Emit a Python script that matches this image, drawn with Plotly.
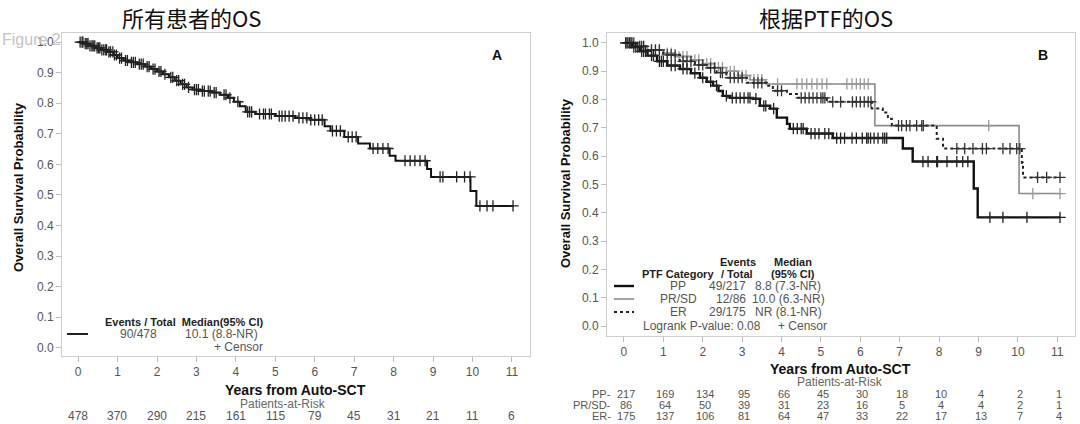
import numpy as np
import plotly.graph_objects as go

# ---------------- data ----------------
years = list(range(12))

# Panel A: all patients (step times / survival)
all_t = [0, 0.15, 0.3, 0.45, 0.6, 0.75, 0.9, 1.0, 1.15, 1.3, 1.5, 1.7, 1.85, 2.0, 2.15, 2.3,
         2.45, 2.6, 2.75, 2.9, 3.1, 3.4, 3.6, 3.8, 3.95, 4.1, 4.25, 4.5, 5.0, 5.5, 5.9, 6.25,
         6.4, 6.75, 7.1, 7.4, 7.9, 8.05, 8.85, 8.95, 9.95, 10.1]
all_s = [1.0, 0.995, 0.988, 0.981, 0.975, 0.968, 0.958, 0.948, 0.94, 0.934, 0.928, 0.92,
         0.912, 0.904, 0.895, 0.885, 0.874, 0.862, 0.852, 0.845, 0.84, 0.835, 0.828, 0.818,
         0.805, 0.79, 0.772, 0.765, 0.758, 0.752, 0.746, 0.725, 0.71, 0.69, 0.668, 0.652,
         0.628, 0.612, 0.585, 0.559, 0.513, 0.464]
all_end = 11.05
all_cens = [0.05, 0.1, 0.12, 0.18, 0.22, 0.25, 0.3, 0.35, 0.38, 0.42, 0.48, 0.52, 0.55, 0.6,
            0.65, 0.7, 0.72, 0.78, 0.82, 0.88, 0.92, 0.97, 1.05, 1.1, 1.2, 1.25, 1.35, 1.4,
            1.45, 1.55, 1.6, 1.65, 1.75, 1.8, 1.9, 1.95, 2.05, 2.1, 2.2, 2.35, 2.4, 2.5, 2.55,
            2.65, 2.7, 2.8, 2.95, 3.0, 3.05, 3.15, 3.2, 3.3, 3.35, 3.45, 3.5, 3.7, 3.75, 3.85,
            4.05, 4.3, 4.35, 4.4, 4.6, 4.7, 4.75, 4.85, 4.9, 5.1, 5.17, 5.25, 5.35, 5.45, 5.6,
            5.7, 5.8, 5.9, 6.0, 6.1, 6.19, 6.45, 6.55, 6.65, 6.85, 6.95, 7.05, 7.48, 7.6, 7.73,
            7.86, 8.29, 8.42, 8.54, 8.67, 8.8, 9.18, 9.25, 9.6, 9.8, 9.94, 10.19, 10.37, 10.52,
            11.03]
all_risk = [478, 370, 290, 215, 161, 115, 79, 45, 31, 21, 11, 6]

# Panel B: by PTF category
pp_t = [0, 0.2, 0.4, 0.6, 0.84, 1.1, 1.42, 1.7, 1.93, 2.1, 2.26, 2.4, 2.51, 2.69, 3.27, 3.45,
        3.71, 3.88, 4.14, 4.21, 4.64, 5.3, 7.08, 7.33, 8.88, 8.98]
pp_s = [1.0, 0.985, 0.97, 0.955, 0.935, 0.92, 0.908, 0.893, 0.877, 0.863, 0.849, 0.83, 0.813,
        0.806, 0.803, 0.778, 0.768, 0.736, 0.714, 0.697, 0.68, 0.664, 0.627, 0.581, 0.486, 0.384]
pp_cens = [0.05, 0.1, 0.15, 0.25, 0.3, 0.35, 0.45, 0.5, 0.55, 0.7, 0.75, 0.9, 0.95, 1.0, 1.2,
           1.3, 1.5, 1.6, 1.8, 2.0, 2.2, 2.35, 2.6, 2.75, 2.85, 2.95, 3.05, 3.15, 3.2, 3.35,
           3.55, 3.6, 3.8, 4.3, 4.4, 4.5, 4.55, 4.75, 4.85, 4.95, 5.1, 5.2, 5.4, 5.5, 5.6, 5.79,
           5.9, 6.05, 6.16, 6.2, 6.26, 6.35, 6.45, 6.57, 6.62, 6.67, 7.59, 7.72, 7.94, 7.96,
           8.2, 8.45, 8.6, 8.73, 9.29, 9.62, 10.23, 11.07]

prsd_t = [0, 0.3, 0.6, 1.0, 1.3, 1.7, 2.0, 2.3, 2.6, 2.9, 3.2, 3.6, 6.37, 10.03]
prsd_s = [1.0, 0.988, 0.976, 0.964, 0.952, 0.94, 0.927, 0.913, 0.9, 0.885, 0.87, 0.855,
          0.708, 0.468]
prsd_cens = [0.1, 0.2, 0.4, 0.5, 0.7, 0.8, 0.9, 1.1, 1.2, 1.4, 1.5, 1.6, 1.8, 1.9, 2.1, 2.2,
             2.4, 2.5, 2.7, 2.8, 3.0, 3.1, 3.3, 3.4, 3.5, 3.9, 4.39, 4.52, 4.64, 4.77, 4.9,
             5.03, 5.15, 5.66, 5.79, 5.9, 6.0, 6.1, 6.2, 9.26, 10.38, 11.07]

er_t = [0, 0.3, 0.6, 1.0, 1.42, 1.8, 2.1, 2.35, 2.6, 3.12, 3.63, 3.78, 4.14, 4.39, 5.15, 6.29,
        6.57, 6.7, 6.8, 7.94, 8.1, 10.1, 10.13]
er_s = [1.0, 0.988, 0.975, 0.958, 0.935, 0.922, 0.912, 0.895, 0.877, 0.859, 0.849, 0.831,
        0.82, 0.806, 0.792, 0.768, 0.754, 0.732, 0.708, 0.662, 0.627, 0.577, 0.525]
er_cens = [0.05, 0.15, 0.2, 0.25, 0.4, 0.45, 0.5, 0.7, 0.8, 0.9, 1.1, 1.2, 1.3, 1.5, 1.6, 1.7,
           1.9, 2.0, 2.2, 2.3, 2.45, 2.5, 2.7, 2.8, 2.9, 3.0, 3.3, 3.4, 3.5, 3.9, 4.0, 4.5,
           4.6, 4.7, 4.8, 4.9, 5.0, 5.05, 5.1, 5.3, 5.5, 5.8, 5.9, 6.0, 6.1, 6.2, 6.27, 6.97,
           7.05, 7.17, 7.26, 7.43, 7.56, 7.6, 8.45, 8.65, 8.86, 9.1, 9.2, 9.62, 9.8, 9.97,
           10.05, 10.5, 10.73, 11.07]
b_end = 11.07

pp_risk = [217, 169, 134, 95, 66, 45, 30, 18, 10, 4, 2, 1]
prsd_risk = [86, 64, 50, 39, 31, 23, 16, 5, 4, 4, 2, 1]
er_risk = [175, 137, 106, 81, 64, 47, 33, 22, 17, 13, 7, 4]

y_ticks = [0.0, 0.1, 0.2, 0.3, 0.4, 0.5, 0.6, 0.7, 0.8, 0.9, 1.0]

# ---------------- helpers ----------------
W, H = 1080, 424
FONT = "Liberation Sans, Arial, sans-serif"


def px(x):
    return x / W


def py(y):
    return 1 - y / H


def step_at(ts, ss, t):
    i = np.searchsorted(np.array(ts), t, side="right") - 1
    return ss[max(i, 0)]


def curve(ts, ss, end):
    return list(ts) + [end], list(ss) + [ss[-1]]


fig = go.Figure()


def add_km(ts, ss, end, cens, color, width, dash, xa, ya, mcolor):
    x, y = curve(ts, ss, end)
    fig.add_trace(go.Scatter(x=x, y=y, mode="lines", line=dict(shape="hv", color=color,
                                                               width=width, dash=dash),
                             xaxis=xa, yaxis=ya, showlegend=False, hoverinfo="skip"))
    cy = [step_at(ts, ss, c) for c in cens]
    fig.add_trace(go.Scatter(x=cens, y=cy, mode="markers",
                             marker=dict(symbol="cross-thin", size=8,
                                         line=dict(color=mcolor, width=1.3)),
                             xaxis=xa, yaxis=ya, showlegend=False, hoverinfo="skip"))


add_km(all_t, all_s, all_end, all_cens, "#111111", 2, "solid", "x", "y", "#222222")
add_km(prsd_t, prsd_s, b_end, prsd_cens, "#8c8c8c", 1.6, "solid", "x2", "y2", "#9a9a9a")
add_km(er_t, er_s, b_end, er_cens, "#222222", 2, "dot", "x2", "y2", "#333333")
add_km(pp_t, pp_s, b_end, pp_cens, "#111111", 2.4, "solid", "x2", "y2", "#222222")

axis_common = dict(showgrid=False, zeroline=False, showline=True, mirror=True,
                   linecolor="#cfcfcf", linewidth=1, ticks="outside", ticklen=5,
                   tickcolor="#bdbdbd", tickfont=dict(family=FONT, size=12, color="#555555"))

fig.update_layout(
    xaxis=dict(domain=[px(62), px(530)], range=[-0.41, 11.46], tickvals=years, **axis_common),
    yaxis=dict(domain=[py(356), py(33)], range=[-0.027, 1.03], tickvals=y_ticks,
               tickformat=".1f", anchor="x", **axis_common),
    xaxis2=dict(domain=[px(607), px(1075)], range=[-0.43, 11.45], tickvals=years,
                anchor="y2", **axis_common),
    yaxis2=dict(domain=[py(336), py(33)], range=[-0.035, 1.035], tickvals=y_ticks,
                tickformat=".1f", anchor="x2", **axis_common),
)

ann = []


def text(x, y, s, size=12, color="#555555", bold=False, xanchor="center", angle=0,
         family=FONT):
    if bold:
        s = "<b>" + s + "</b>"
    ann.append(dict(x=px(x), y=py(y), xref="paper", yref="paper", text=s, showarrow=False,
                    xanchor=xanchor, yanchor="middle", textangle=angle,
                    font=dict(family=family, size=size, color=color)))


CJK = "Noto Sans CJK SC"
text(191, 17, "所有患者的OS", size=22, color="#111111", family=CJK)
text(826, 17, "根据PTF的OS", size=22, color="#111111", family=CJK)
text(0, 40, "Figure 2", size=16, color="#c4c4c4", xanchor="left")

text(497, 55, "A", size=14, color="#111111", bold=True)
text(1043, 55, "B", size=14, color="#111111", bold=True)

text(18, 187, "Overall Survival Probability", size=13, color="#111111", bold=True, angle=-90)
text(565, 183, "Overall Survival Probability", size=13, color="#111111", bold=True, angle=-90)

text(295, 390, "Years from Auto-SCT", size=14, color="#111111", bold=True)
text(840, 369, "Years from Auto-SCT", size=14, color="#111111", bold=True)

text(283, 404, "Patients-at-Risk", size=12, color="#666666")
text(840, 382, "Patients-at-Risk", size=12, color="#666666")

for i, v in enumerate(all_risk):
    text(78 + 39.45 * years[i], 416, str(v), size=12)
for row, vals, lab in [(394, pp_risk, "PP-"), (405, prsd_risk, "PR/SD-"), (416, er_risk, "ER-")]:
    text(613, row, lab, size=11, xanchor="right")
    for i, v in enumerate(vals):
        text(626 + 39.4 * years[i], row, str(v), size=11)

# Panel A legend
text(103, 322, "Events / Total  Median(95% CI)", size=11, color="#222222", bold=True,
     xanchor="left")
text(138, 334, "90/478", size=12)
text(221, 334, "10.1 (8.8-NR)", size=12)
text(238, 347, "+ Censor", size=12)

# Panel B legend
text(738, 262, "Events", size=11, color="#222222", bold=True)
text(793, 262, "Median", size=11, color="#222222", bold=True)
text(678, 274, "PTF Category", size=11, color="#222222", bold=True)
text(737, 274, "/ Total", size=11, color="#222222", bold=True)
text(793, 274, "(95% CI)", size=11, color="#222222", bold=True)
text(678, 286, "PP", size=12)
text(678, 299, "PR/SD", size=12)
text(678, 312, "ER", size=12)
text(748, 286, "49/217", size=12, xanchor="right")
text(748, 299, "12/86", size=12, xanchor="right")
text(748, 312, "29/175", size=12, xanchor="right")
text(788, 286, "8.8 (7.3-NR)", size=12)
text(788, 299, "10.0 (6.3-NR)", size=12)
text(788, 312, "NR (8.1-NR)", size=12)
text(641, 326, "Logrank P-value: 0.08", size=12, xanchor="left")
text(802, 326, "+ Censor", size=12)

shapes = [
    dict(type="line", xref="paper", yref="paper", x0=px(67), x1=px(88), y0=py(334), y1=py(334),
         line=dict(color="#222222", width=2)),
    dict(type="line", xref="paper", yref="paper", x0=px(614), x1=px(634), y0=py(286), y1=py(286),
         line=dict(color="#111111", width=2.4)),
    dict(type="line", xref="paper", yref="paper", x0=px(614), x1=px(634), y0=py(299), y1=py(299),
         line=dict(color="#8c8c8c", width=1.6)),
    dict(type="line", xref="paper", yref="paper", x0=px(614), x1=px(634), y0=py(312), y1=py(312),
         line=dict(color="#222222", width=2, dash="dot")),
]

fig.update_layout(width=W, height=H, margin=dict(l=0, r=0, t=0, b=0),
                  paper_bgcolor="white", plot_bgcolor="white", annotations=ann, shapes=shapes,
                  showlegend=False)

fig.write_html("out.html", config={"displayModeBar": False},
               post_script="document.body.style.margin='0px';document.body.style.overflow='hidden';")
